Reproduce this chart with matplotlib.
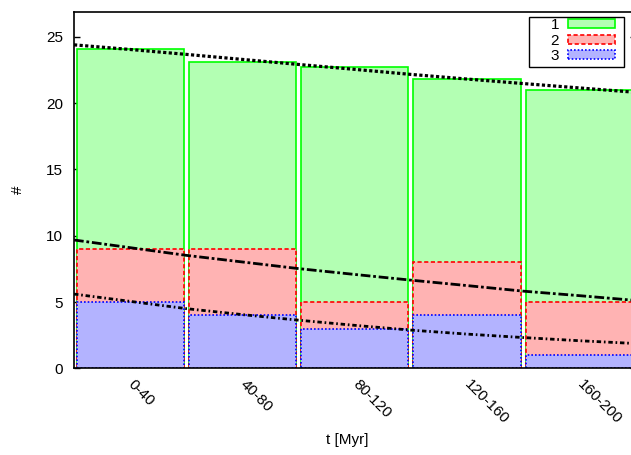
import matplotlib
matplotlib.use("Agg")
import matplotlib.pyplot as plt
from matplotlib.patches import Patch, Rectangle

plt.rcParams['font.family'] = ['Liberation Sans', 'DejaVu Sans']

# bins and counts per bin
categories = ['0-40', '40-80', '80-120', '120-160', '160-200']
n1 = [24.1, 23.1, 22.7, 21.8, 21.0]
n2 = [9, 9, 5, 8, 5]
n3 = [5, 4, 3, 4, 1]

fit_x = [-0.5, 0.0, 0.5, 1.0, 1.5, 2.0, 2.5, 3.0, 3.5, 4.0, 4.5]
fit1 = [24.4, 24.05, 23.68, 23.3, 22.92, 22.55, 22.17, 21.82, 21.48, 21.15, 20.82]
fit2 = [9.68, 9.1, 8.52, 8.02, 7.52, 7.08, 6.65, 6.24, 5.82, 5.48, 5.12]
fit3 = [5.6, 5.05, 4.5, 4.05, 3.63, 3.24, 2.88, 2.58, 2.32, 2.08, 1.87]

W, H = 631, 455
fs = 11
fig = plt.figure(figsize=(W / 100, H / 100), dpi=100)
# plot area runs a bit past the right edge of the picture
ax = fig.add_axes([74 / W, 86.7 / H, 561.5 / W, 356.6 / H])

pos = list(range(len(categories)))
bw = 0.955
ax.bar(pos, n1, width=bw, color='#b3ffb3', edgecolor='#00ff00', linewidth=1.2, zorder=2)
ax.bar(pos, n2, width=bw, color='#ffb3b3', edgecolor='#ff0000', linewidth=1.2,
       linestyle=(0, (2.5, 1.5)), zorder=3)
ax.bar(pos, n3, width=bw, color='#b3b3ff', edgecolor='#0000ff', linewidth=1.2,
       linestyle=(0, (1, 1.2)), zorder=4)

ax.plot(fit_x, fit1, color='black', lw=2.3, linestyle=(0, (1, 0.75)), zorder=5)
ax.plot(fit_x, fit2, color='black', lw=2.0, linestyle=(0, (3.5, 1, 1, 1)), zorder=5)
ax.plot(fit_x, fit3, color='black', lw=2.0, linestyle=(0, (1.6, 1, 0.6, 1)), zorder=5)

ax.set_xlim(-0.5, 4.5)
ax.set_ylim(0, 26.9)
ax.set_yticks([0, 5, 10, 15, 20, 25])
ax.tick_params(axis='y', direction='in', length=4.5, width=1, pad=8, labelsize=fs,
               right=True)
ax.set_xticks(pos)
ax.set_xticklabels(categories, rotation=-45, rotation_mode='anchor', ha='left',
                   va='center', fontsize=fs)
ax.tick_params(axis='x', length=0, pad=10)
for s in ax.spines.values():
    s.set_linewidth(1.2)
    s.set_zorder(6)

fig.text(347 / W, 1 - 440 / H, 't [Myr]', ha='center', va='center', fontsize=fs)
fig.text(18 / W, 1 - 190 / H, '#', ha='center', va='center', rotation=90, fontsize=fs)

handles = [
    Patch(facecolor='#b3ffb3', edgecolor='#00ff00', linewidth=1.2),
    Patch(facecolor='#ffb3b3', edgecolor='#ff0000', linewidth=1.2, linestyle=(0, (2.5, 1.5))),
    Patch(facecolor='#b3b3ff', edgecolor='#0000ff', linewidth=1.2, linestyle=(0, (1, 1.2))),
]
leg = ax.legend(handles, ['1', '2', '3'], loc='upper right', markerfirst=False,
                bbox_to_anchor=(615 / W, 1 - 18 / H), bbox_transform=fig.transFigure,
                borderaxespad=0, frameon=False, fontsize=fs, handlelength=3.1,
                handleheight=0.55, labelspacing=0.1, handletextpad=0.55, borderpad=0)
leg.set_zorder(10)
# gnuplot-style key box, wider than the entries
fig.add_artist(Rectangle((529 / W, 1 - 67 / H), 95 / W, 50 / H, transform=fig.transFigure,
                         fill=False, edgecolor='black', linewidth=1.0))

fig.savefig('out.png', dpi=100)
